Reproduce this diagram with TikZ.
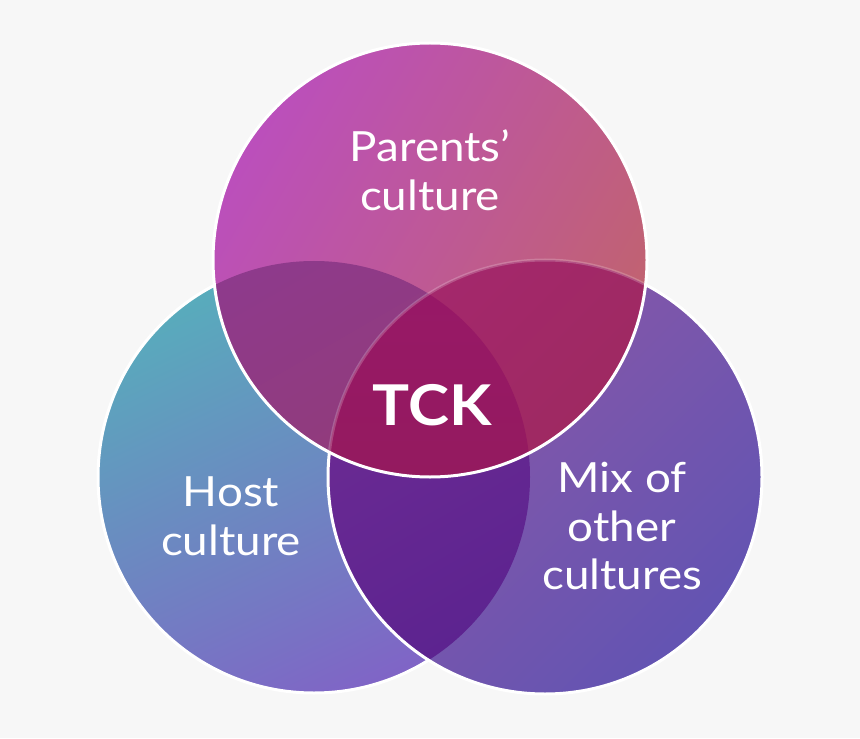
\documentclass[tikz,border=0pt]{standalone}
\usepackage{fontspec}
\setmainfont{Lato}
\newfontfamily\wordfont{Lato}[FakeStretch=1.1]
\usepackage{tikz}

\definecolor{paper}{HTML}{F7F7F7}
\definecolor{parentA}{HTML}{BB4FBC}
\definecolor{parentB}{HTML}{C1636E}
\definecolor{hostA}{HTML}{58ACBC}
\definecolor{hostB}{HTML}{8064C6}
\definecolor{mixA}{HTML}{8E58A6}
\definecolor{mixB}{HTML}{6354B2}
\definecolor{phA}{HTML}{8E3A8C}
\definecolor{phB}{HTML}{943C6A}
\definecolor{pmA}{HTML}{A4286C}
\definecolor{pmB}{HTML}{982A56}
\definecolor{hmA}{HTML}{6E2C94}
\definecolor{hmB}{HTML}{56208E}
\definecolor{tckA}{HTML}{981868}
\definecolor{tckB}{HTML}{901C56}

\begin{document}
\begin{tikzpicture}[x=0.3mm, y=0.3mm,
  ring/.style = {draw=white, line width=0.9mm},
  word/.style = {text=white, align=center, font=\wordfont\fontsize{35.5}{41.5}\selectfont},
  core/.style = {text=white, font=\wordfont\bfseries\fontsize{48}{48}\selectfont}]
  \fill[paper] (0,0) rectangle (860,738);
  \coordinate (P) at (430,478);
  \coordinate (H) at (314,261);
  \coordinate (M) at (545,261);
  % host circle
  \shade[top color=hostA, bottom color=hostB, shading angle=25] (H) circle[radius=216];
  \draw[ring] (H) circle[radius=216];
  % mix circle
  \shade[top color=mixA, bottom color=mixB, shading angle=45] (M) circle[radius=217];
  \begin{scope}
    \clip (H) circle[radius=216];
    \shade[top color=hmA, bottom color=hmB, shading angle=30] (M) circle[radius=217];
  \end{scope}
  \draw[ring] (M) circle[radius=217];
  % parents circle
  \shade[top color=parentA, bottom color=parentB, shading angle=60] (P) circle[radius=217];
  \begin{scope}
    \clip (P) circle[radius=217];
    \shade[top color=phA, bottom color=phB, shading angle=30] (H) circle[radius=216];
    \shade[top color=pmA, bottom color=pmB, shading angle=45] (M) circle[radius=217];
    \clip (H) circle[radius=216];
    \shade[top color=tckA, bottom color=tckB] (M) circle[radius=217];
  \end{scope}
  \begin{scope}
    \clip (P) circle[radius=217];
    \draw[white, opacity=0.2, line width=0.9mm] (M) circle[radius=217];
  \end{scope}
  \draw[ring] (P) circle[radius=217];
  % labels
  \node[word] (parents) at (430,568) {Parents’\\culture};
  \node[word] (host) at (231,222) {Host\\culture};
  \node[word] (mix) at (622,212) {Mix of\\other\\cultures};
  \node[core] (tck) at (432,333) {TCK};
\end{tikzpicture}
\end{document}
